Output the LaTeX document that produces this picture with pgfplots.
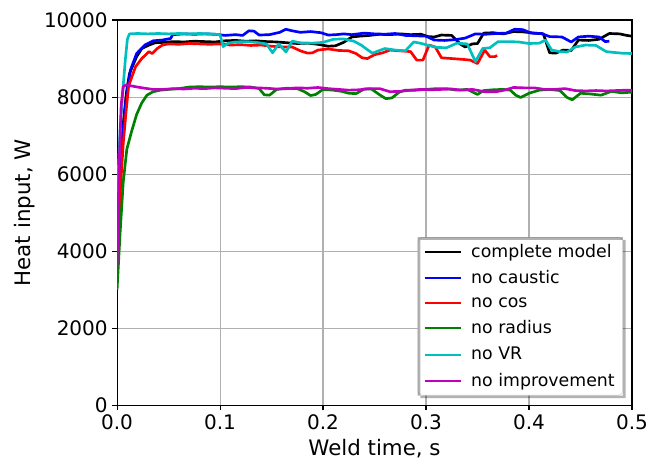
\documentclass[border=0pt]{standalone}
\usepackage{fontspec}
\setmainfont{DejaVu Sans}
\usepackage{pgfplots}
\pgfplotsset{compat=1.18}
\usetikzlibrary{calc}
\definecolor{mplgreen}{rgb}{0,0.5,0}
\definecolor{mplcyan}{rgb}{0,0.75,0.75}
\definecolor{mplmag}{rgb}{0.75,0,0.75}
\definecolor{gridgray}{HTML}{B0B0B0}

\begin{document}
\begin{tikzpicture}
\begin{axis}[
    name=ax,
    scale only axis,
    width=386pt, height=289pt,
    xmin=0, xmax=0.5, ymin=0, ymax=10000,
    xtick={0,0.1,0.2,0.3,0.4,0.5},
    ytick={0,2000,4000,6000,8000,10000},
    scaled ticks=false,
    x tick label style={/pgf/number format/.cd, fixed, fixed zerofill, precision=1},
    y tick label style={/pgf/number format/.cd, 1000 sep={}},
    /pgf/number format/assume math mode=true,
    ticklabel style={font=\fontsize{15}{18}\selectfont},
    label style={font=\fontsize{16}{19}\selectfont},
    xlabel={Weld time, s},
    ylabel={Heat input, W},
    grid=major,
    grid style={gridgray, line width=0.8pt},
    tick align=outside,
    tick pos=left,
    major tick length=3.5pt,
    tick style={black, line width=0.8pt},
    axis line style={line width=0.8pt},
    every axis plot/.append style={line width=2pt, line join=round},
    legend cell align=left,
    legend style={at={(0.9825,0.026)}, anchor=south east, name=leg,
        draw=gray!35, fill=white, rounded corners=3pt,
        font=\fontsize{13}{15}\selectfont,
        inner xsep=4pt, inner ysep=3pt, row sep=4.6pt},
    legend image code/.code={\draw[#1, line width=1.5pt] (0pt,0pt) -- (27pt,0pt); \path (0pt,0pt) (32pt,0pt);},
]
% complete model
\addplot[black] coordinates {
 (0,3800) (0.003,5800) (0.006,7300) (0.009,8100) (0.012,8600) (0.015,8800)
 (0.019,9050) (0.024,9260) (0.031,9350) (0.037,9410) (0.045,9420) (0.055,9440)
 (0.065,9430) (0.075,9450) (0.085,9440) (0.095,9430) (0.105,9460) (0.115,9470)
 (0.125,9450) (0.135,9460) (0.145,9440) (0.155,9430) (0.165,9410) (0.175,9390)
 (0.185,9400) (0.195,9370) (0.205,9320) (0.212,9330) (0.22,9420) (0.228,9560)
 (0.235,9580) (0.245,9600) (0.255,9630) (0.265,9620) (0.275,9640) (0.285,9620)
 (0.295,9630) (0.302,9570) (0.308,9560) (0.315,9610) (0.325,9600) (0.333,9380)
 (0.338,9300) (0.345,9380) (0.35,9390) (0.356,9660) (0.365,9670) (0.375,9640)
 (0.385,9700) (0.395,9690) (0.405,9660) (0.414,9640) (0.42,9150) (0.426,9140)
 (0.433,9220) (0.441,9210) (0.448,9480) (0.458,9470) (0.468,9500) (0.478,9650)
 (0.488,9640) (0.495,9600) (0.5,9580)
};
\addlegendentry{complete model}
% no caustic
\addplot[blue] coordinates {
 (0,3900) (0.003,5800) (0.006,7200) (0.009,8000) (0.013,8700) (0.019,9130)
 (0.027,9350) (0.035,9460) (0.044,9480) (0.052,9520) (0.054,9620) (0.065,9640)
 (0.075,9630) (0.085,9640) (0.095,9630) (0.105,9600) (0.115,9620) (0.122,9600)
 (0.128,9720) (0.133,9710) (0.138,9610) (0.148,9620) (0.158,9680) (0.164,9760)
 (0.17,9720) (0.178,9680) (0.188,9700) (0.198,9670) (0.205,9610) (0.213,9620)
 (0.22,9640) (0.228,9620) (0.24,9660) (0.25,9640) (0.26,9630) (0.27,9650)
 (0.28,9600) (0.29,9590) (0.3,9580) (0.308,9480) (0.318,9470) (0.328,9490)
 (0.338,9530) (0.348,9640) (0.358,9630) (0.368,9650) (0.378,9660) (0.386,9760)
 (0.394,9750) (0.402,9660) (0.412,9650) (0.42,9570) (0.432,9560) (0.441,9430)
 (0.448,9560) (0.458,9580) (0.468,9560) (0.474,9440) (0.478,9450)
};
\addlegendentry{no caustic}
% no cos
\addplot[red] coordinates {
 (0,3700) (0.003,5500) (0.006,6800) (0.009,7700) (0.0113,8300) (0.018,8790)
 (0.024,9000) (0.031,9180) (0.034,9130) (0.039,9260) (0.044,9350) (0.05,9380)
 (0.06,9370) (0.07,9390) (0.08,9380) (0.09,9370) (0.1,9380) (0.11,9350)
 (0.12,9360) (0.13,9340) (0.14,9350) (0.15,9320) (0.16,9300) (0.17,9300)
 (0.178,9200) (0.185,9140) (0.19,9150) (0.195,9220) (0.205,9250) (0.215,9210)
 (0.225,9200) (0.232,9130) (0.238,9020) (0.243,9000) (0.25,9100) (0.258,9150)
 (0.265,9220) (0.275,9200) (0.285,9180) (0.291,8960) (0.297,8960) (0.303,9350)
 (0.309,9300) (0.315,9020) (0.325,9000) (0.335,8980) (0.343,8960) (0.35,8870)
 (0.357,9220) (0.362,9050) (0.367,9050) (0.369,9080)
};
\addlegendentry{no cos}
% no radius
\addplot[mplgreen] coordinates {
 (0,3000) (0.003,4500) (0.006,5800) (0.0095,6650) (0.014,7100) (0.019,7550)
 (0.024,7850) (0.029,8050) (0.035,8140) (0.042,8180) (0.05,8200) (0.06,8220)
 (0.07,8260) (0.08,8270) (0.09,8260) (0.1,8270) (0.11,8260) (0.12,8270)
 (0.13,8260) (0.138,8220) (0.143,8060) (0.148,8050) (0.155,8200) (0.165,8230)
 (0.175,8220) (0.182,8140) (0.188,8040) (0.193,8070) (0.2,8200) (0.21,8180)
 (0.218,8150) (0.225,8100) (0.232,8090) (0.24,8210) (0.247,8210) (0.255,8060)
 (0.261,7960) (0.267,7980) (0.274,8130) (0.28,8180) (0.29,8180) (0.3,8200)
 (0.31,8220) (0.32,8220) (0.33,8180) (0.34,8200) (0.35,8070) (0.356,8170)
 (0.365,8190) (0.375,8200) (0.382,8180) (0.387,8050) (0.392,7990) (0.4,8100)
 (0.41,8180) (0.42,8200) (0.43,8170) (0.437,7990) (0.442,7930) (0.45,8100)
 (0.46,8080) (0.47,8050) (0.48,8150) (0.49,8110) (0.5,8130)
};
\addlegendentry{no radius}
% no VR
\addplot[mplcyan] coordinates {
 (0,5300) (0.003,7200) (0.006,8300) (0.008,8960) (0.010,9500) (0.012,9640)
 (0.02,9650) (0.03,9640) (0.04,9650) (0.05,9640) (0.06,9650) (0.07,9640)
 (0.08,9650) (0.09,9640) (0.1,9620) (0.103,9310) (0.108,9400) (0.115,9430)
 (0.125,9440) (0.135,9420) (0.145,9380) (0.151,9150) (0.157,9380) (0.164,9170)
 (0.17,9450) (0.18,9400) (0.19,9400) (0.2,9420) (0.21,9500) (0.22,9510)
 (0.23,9450) (0.237,9350) (0.242,9250) (0.248,9140) (0.252,9180) (0.26,9260)
 (0.27,9220) (0.28,9200) (0.288,9430) (0.294,9400) (0.3,9360) (0.31,9290)
 (0.32,9280) (0.33,9400) (0.34,9380) (0.348,8920) (0.355,9260) (0.362,9280)
 (0.37,9440) (0.38,9440) (0.39,9430) (0.4,9390) (0.41,9400) (0.416,9480)
 (0.422,9220) (0.43,9180) (0.437,9170) (0.445,9300) (0.455,9350) (0.465,9340)
 (0.475,9180) (0.482,9160) (0.49,9140) (0.5,9130)
};
\addlegendentry{no VR}
% no improvement
\addplot[mplmag] coordinates {
 (0,3600) (0.002,6200) (0.004,7800) (0.006,8270) (0.009,8320) (0.012,8300)
 (0.02,8260) (0.027,8230) (0.035,8200) (0.045,8200) (0.055,8220) (0.065,8210)
 (0.075,8230) (0.085,8220) (0.095,8240) (0.105,8230) (0.115,8220) (0.125,8250)
 (0.135,8240) (0.145,8230) (0.155,8210) (0.165,8220) (0.175,8240) (0.185,8230)
 (0.195,8250) (0.205,8220) (0.215,8200) (0.225,8180) (0.235,8190) (0.245,8220)
 (0.255,8220) (0.265,8140) (0.275,8150) (0.285,8180) (0.295,8200) (0.305,8190)
 (0.315,8200) (0.325,8210) (0.335,8180) (0.345,8200) (0.357,8140) (0.368,8140)
 (0.376,8180) (0.385,8250) (0.395,8240) (0.405,8240) (0.415,8200) (0.425,8200)
 (0.435,8220) (0.445,8170) (0.455,8160) (0.465,8170) (0.475,8160) (0.485,8170)
 (0.495,8180) (0.5,8180)
};
\addlegendentry{no improvement}
\end{axis}
% legend shadow, only outside the legend box
\fill[black, opacity=0.3, even odd rule]
  ($(leg.south west)+(2pt,-2pt)$) rectangle ($(leg.north east)+(2pt,-2pt)$)
  (leg.south west) rectangle (leg.north east);
\pgfresetboundingbox
\path ($(ax.south west)+(-87.75pt,-42.75pt)$) rectangle ($(ax.north east)+(15pt,15pt)$);
\end{tikzpicture}
\end{document}
